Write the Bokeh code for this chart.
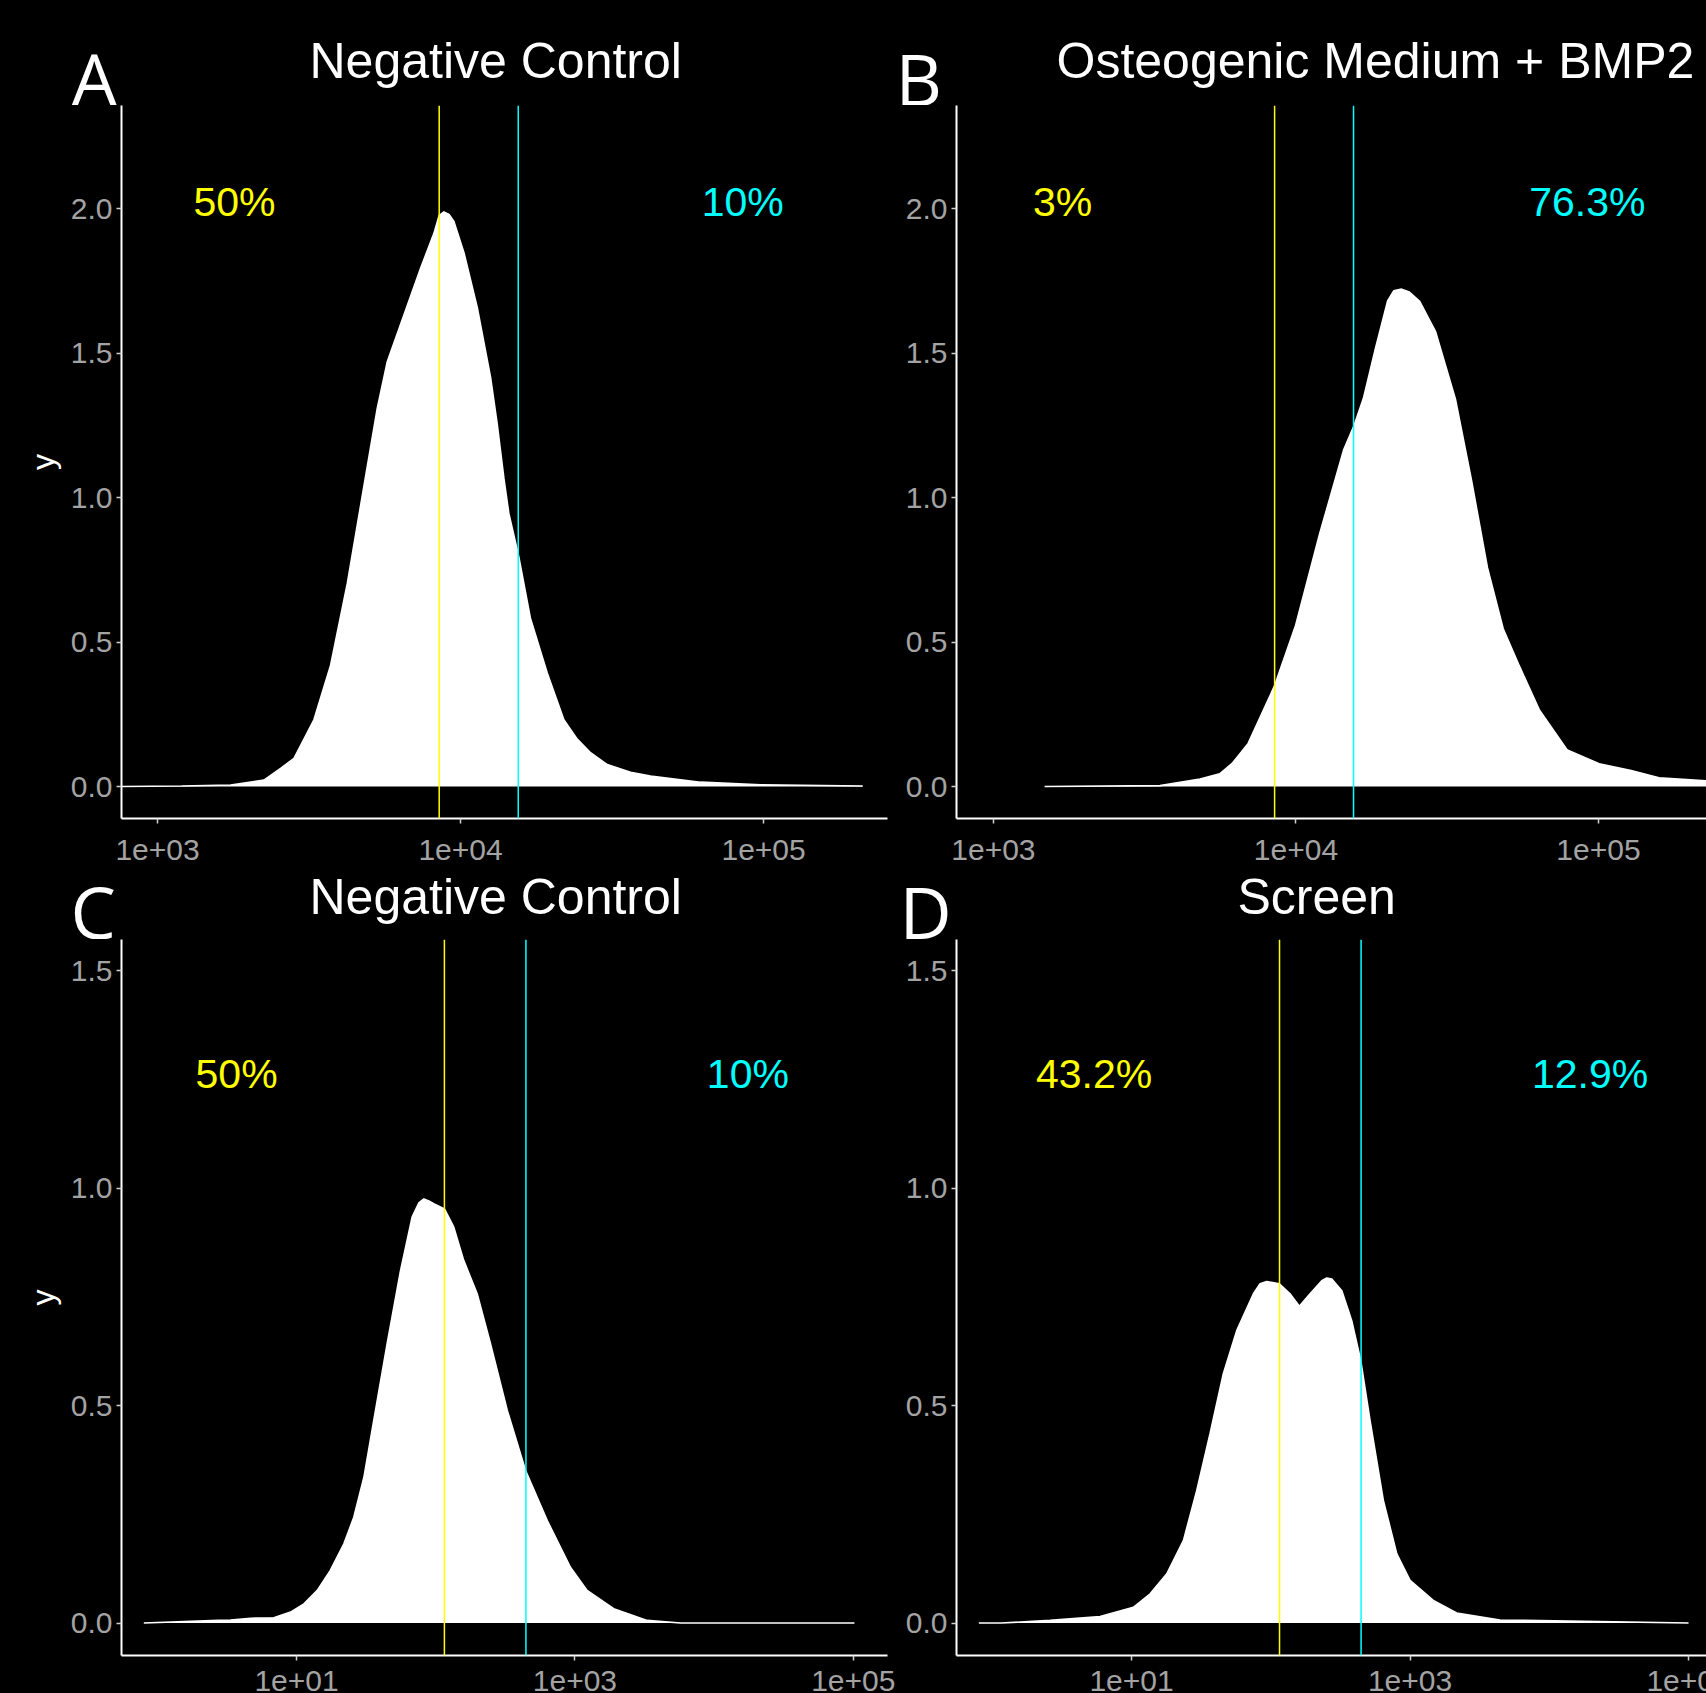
from bokeh.plotting import figure
from bokeh.models import Range1d, FixedTicker, Span, Label
from bokeh.layouts import column, row
from bokeh.core.properties import value
from bokeh.embed import file_html
from bokeh.resources import INLINE

# ---------------- data ----------------
# Panel A: Negative Control (intensity, density)
A_x = [760, 1200, 1742, 2244, 2547, 2820, 3281, 3725, 4227, 4797, 5309, 5729, 6501,
       7379, 8166, 8492, 8810, 9162, 9506, 10260, 11350, 12560, 13210, 13900, 14430,
       15550, 17010, 19320, 21920, 24270, 26850, 30480, 36390, 42360, 61940, 97720,
       212300]
A_density = [0.0, 0.002, 0.005, 0.022, 0.063, 0.097, 0.231, 0.420, 0.702, 1.039, 1.308,
             1.470, 1.631, 1.793, 1.914, 1.975, 1.988, 1.979, 1.955, 1.847, 1.658, 1.416,
             1.254, 1.066, 0.945, 0.797, 0.581, 0.393, 0.231, 0.164, 0.117, 0.076, 0.049,
             0.036, 0.015, 0.006, 0.002]

# Panel B: Osteogenic Medium + BMP2
B_x = [1476, 3556, 4819, 5598, 6152, 6950, 8492, 9977, 11970, 14390, 15560, 16710, 18320,
       20090, 21040, 22340, 23700, 25590, 28910, 33650, 38020, 42950, 48420, 54700,
       63680, 78890, 100500, 128200, 158500, 227000]
B_density = [0.0, 0.003, 0.026, 0.044, 0.080, 0.149, 0.348, 0.558, 0.874, 1.166, 1.249,
             1.343, 1.517, 1.680, 1.715, 1.721, 1.711, 1.680, 1.575, 1.341, 1.061, 0.757,
             0.546, 0.418, 0.266, 0.126, 0.079, 0.055, 0.030, 0.020]

# Panel C: Negative Control (second readout)
C_x = [0.80, 2.74, 3.36, 4.68, 6.87, 9.06, 11.3, 14.1, 17.5, 21.9, 25.8, 30.5, 35.9, 44.8,
       55.9, 67.7, 75.7, 82.2, 89.3, 96.9, 115.6, 134.9, 159.2, 198.6, 247.6, 326.5,
       441.6, 632, 929, 1224, 1901, 3304, 5741, 102000]
C_density = [0.0, 0.006, 0.007, 0.011, 0.012, 0.025, 0.044, 0.075, 0.121, 0.182, 0.243,
             0.335, 0.466, 0.642, 0.810, 0.933, 0.966, 0.975, 0.970, 0.964, 0.952, 0.910,
             0.833, 0.757, 0.642, 0.489, 0.351, 0.236, 0.128, 0.075, 0.033, 0.006, 0.0,
             0.0]

# Panel D: Screen
D_x = [0.80, 1.16, 2.60, 5.94, 10.3, 13.6, 17.9, 23.6, 29.4, 36.6, 45.6, 56.9, 75.0, 83.8,
       93.5, 115.2, 137.4, 160.3, 191.4, 232.3, 252.4, 274.2, 323.6, 381.2, 442.6, 516,
       643, 803, 1000, 1469, 2163, 4426, 100000]
D_density = [0.0, 0.0, 0.006, 0.015, 0.036, 0.067, 0.113, 0.190, 0.305, 0.435, 0.573,
             0.672, 0.757, 0.780, 0.785, 0.780, 0.757, 0.728, 0.757, 0.787, 0.793, 0.791,
             0.764, 0.695, 0.603, 0.466, 0.282, 0.159, 0.098, 0.052, 0.023, 0.007, 0.0]

# gates (low = yellow, high = cyan)
GATES_AB = [8500, 15500]
GATES_CD = [115.5, 445]

TITLES = ["Negative Control", "Osteogenic Medium + BMP2", "Negative Control", "Screen"]
LETTERS = ["A", "B", "C", "D"]
PCT_A = ["50%", "10%"]
PCT_B = ["3%", "76.3%"]
PCT_C = ["50%", "10%"]
PCT_D = ["43.2%", "12.9%"]

AB_X_TICKS = [1000, 10000, 100000]
AB_X_LABELS = ["1e+03", "1e+04", "1e+05"]
CD_X_TICKS = [10, 1000, 100000]
CD_X_LABELS = ["1e+01", "1e+03", "1e+05"]
AB_Y_TICKS = [0, 0.5, 1, 1.5, 2]
AB_Y_LABELS = ["0.0", "0.5", "1.0", "1.5", "2.0"]
CD_Y_TICKS = [0, 0.5, 1, 1.5]
CD_Y_LABELS = ["0.0", "0.5", "1.0", "1.5"]

# ---------------- styling ----------------
FONT = "Liberation Sans"
LETTER_FONT = "Open Sans"
GREY = "#a3a3a3"
YELLOW = "#ffff00"
CYAN = "#00ffff"


def blank(p):
    p.background_fill_color = "black"
    p.border_fill_color = "black"
    p.outline_line_color = None
    p.xgrid.grid_line_color = None
    p.ygrid.grid_line_color = None


def header(width, height, title, title_x, title_y, letter, letter_x, letter_y):
    h = figure(width=width, height=height, x_range=Range1d(0, width),
               y_range=Range1d(0, height), output_backend="svg",
               toolbar_location=None, min_border=0,
               x_axis_location=None, y_axis_location=None)
    blank(h)
    h.add_layout(Label(x=title_x, y=title_y, text=title, text_color="white",
                       text_font=FONT, text_font_size="50px",
                       text_align="left", text_baseline="middle"))
    h.add_layout(Label(x=letter_x, y=letter_y, text=letter, text_color="white",
                       text_font=LETTER_FONT, text_font_size="72px",
                       text_align="left", text_baseline="middle"))
    return h


def panel(x, dens, *, width, height, left, right, bottom, xr, yr,
          xticks, xlabels, yticks, ylabels, gates, pct, pct_x, pct_y,
          ylab, show_xlabels):
    p = figure(width=width, height=height, x_axis_type="log",
               x_range=xr, y_range=Range1d(*yr),
               output_backend="svg", toolbar_location=None,
               min_border=0, min_border_left=left, min_border_right=right,
               min_border_top=0, min_border_bottom=bottom)
    blank(p)

    p.varea(x=x, y1=0, y2=dens, fill_color="white", fill_alpha=1.0)
    p.line(x, dens, line_color="white", line_width=1.6)

    p.add_layout(Span(location=gates[0], dimension="height",
                      line_color=YELLOW, line_width=1.5))
    p.add_layout(Span(location=gates[1], dimension="height",
                      line_color=CYAN, line_width=1.5))

    for txt, xx, col in zip(pct, pct_x, [YELLOW, CYAN]):
        p.add_layout(Label(x=xx, y=pct_y, text=txt, text_color=col,
                           text_font=FONT, text_font_size="41px",
                           text_align="center", text_baseline="middle"))

    xa = p.xaxis[0]
    xa.ticker = FixedTicker(ticks=xticks)
    xa.major_label_overrides = dict(zip(xticks, xlabels))
    xa.axis_line_color = "white"
    xa.axis_line_width = 2
    xa.major_tick_line_color = "#cfcfcf"
    xa.major_tick_line_width = 1.5
    xa.major_tick_out = 5
    xa.major_tick_in = 0
    xa.minor_tick_line_color = None
    xa.major_label_text_font = FONT
    if show_xlabels:
        xa.major_label_text_font_size = "30px"
        xa.major_label_text_color = GREY
        xa.major_label_standoff = 16
    else:
        # labels are drawn in the footer strip (cropped like the reference)
        xa.major_label_text_font_size = "0px"
        xa.major_label_text_color = None
        xa.major_label_standoff = 0

    ya = p.yaxis[0]
    ya.ticker = FixedTicker(ticks=yticks)
    ya.major_label_overrides = dict(zip(yticks, ylabels))
    ya.axis_line_color = "white"
    ya.axis_line_width = 2
    ya.major_tick_line_color = "#cfcfcf"
    ya.major_tick_line_width = 1.5
    ya.major_tick_out = 5
    ya.major_tick_in = 0
    ya.minor_tick_line_color = None
    ya.major_label_text_font = FONT
    ya.major_label_text_font_size = "30px"
    ya.major_label_text_color = GREY
    ya.major_label_standoff = 4
    if ylab:
        ya.axis_label = ylab
        ya.axis_label_text_font = FONT
        ya.axis_label_text_font_size = "32px"
        ya.axis_label_text_font_style = "normal"
        ya.axis_label_text_color = "white"
        ya.axis_label_standoff = 7
    return p


def footer(width, height, left, right, xr, xticks, xlabels):
    f = figure(width=width, height=height, x_axis_type="log", x_range=xr,
               y_range=Range1d(0, 1), output_backend="svg", toolbar_location=None,
               min_border=0, min_border_left=left, min_border_right=right,
               min_border_top=0, min_border_bottom=0,
               x_axis_location=None, y_axis_location=None)
    blank(f)
    f.text(x=xticks, y=[1] * len(xticks), text=xlabels,
           text_font=value(FONT), text_font_size=value("30px"),
           text_color=GREY, text_align="center", text_baseline="top")
    return f


AB_YR = (-0.1107, 2.3564)
CD_YR = (-0.0747, 1.5713)
xr_A = Range1d(760.3, 256400)
xr_B = Range1d(755, 227500)
xr_C = Range1d(0.553, 176200)
xr_D = Range1d(0.553, 134600)
# same log scale as panel C, carried on to the right edge of its column
xr_C_labels = Range1d(0.553, 218300)

W_L, W_R = 900, 806

hA = header(W_L, 105, TITLES[0], 309, 45, LETTERS[0], 71, 28)
hB = header(W_R, 105, TITLES[1], 156, 45, LETTERS[1], -5, 28)
hC = header(W_L, 65, TITLES[2], 309, 43, LETTERS[2], 70, 29)
hD = header(W_R, 65, TITLES[3], 337, 43, LETTERS[3], -1, 29)

pA = panel(A_x, A_density, width=W_L, height=769, left=121, right=13, bottom=56,
           xr=xr_A, yr=AB_YR, xticks=AB_X_TICKS, xlabels=AB_X_LABELS,
           yticks=AB_Y_TICKS, ylabels=AB_Y_LABELS, gates=GATES_AB, pct=PCT_A,
           pct_x=[1795, 85300], pct_y=2.024, ylab="y", show_xlabels=True)
pB = panel(B_x, B_density, width=W_R, height=769, left=56, right=0, bottom=56,
           xr=xr_B, yr=AB_YR, xticks=AB_X_TICKS, xlabels=AB_X_LABELS,
           yticks=AB_Y_TICKS, ylabels=AB_Y_LABELS, gates=GATES_AB, pct=PCT_B,
           pct_x=[1694, 91800], pct_y=2.024, ylab=None, show_xlabels=True)
pC = panel(C_x, C_density, width=W_L, height=731, left=121, right=13, bottom=15,
           xr=xr_C, yr=CD_YR, xticks=CD_X_TICKS, xlabels=CD_X_LABELS,
           yticks=CD_Y_TICKS, ylabels=CD_Y_LABELS, gates=GATES_CD, pct=PCT_C,
           pct_x=[3.71, 17500], pct_y=1.263, ylab="y", show_xlabels=False)
pD = panel(D_x, D_density, width=W_R, height=731, left=56, right=0, bottom=15,
           xr=xr_D, yr=CD_YR, xticks=CD_X_TICKS, xlabels=CD_X_LABELS,
           yticks=CD_Y_TICKS, ylabels=CD_Y_LABELS, gates=GATES_CD, pct=PCT_D,
           pct_x=[5.38, 19640], pct_y=1.263, ylab=None, show_xlabels=False)

fC = footer(W_L, 23, 121, 0, xr_C_labels, CD_X_TICKS, CD_X_LABELS)
fD = footer(W_R, 23, 56, 0, xr_D, CD_X_TICKS, CD_X_LABELS)

layout = column(row(hA, hB), row(pA, pB), row(hC, hD), row(pC, pD), row(fC, fD))

html = file_html(layout, INLINE, title="Density panels")
html = html.replace("</head>",
                    "<style>html,body{margin:0;padding:0;background:#000000;overflow:hidden;}</style></head>", 1)
open("out.html", "w").write(html)
